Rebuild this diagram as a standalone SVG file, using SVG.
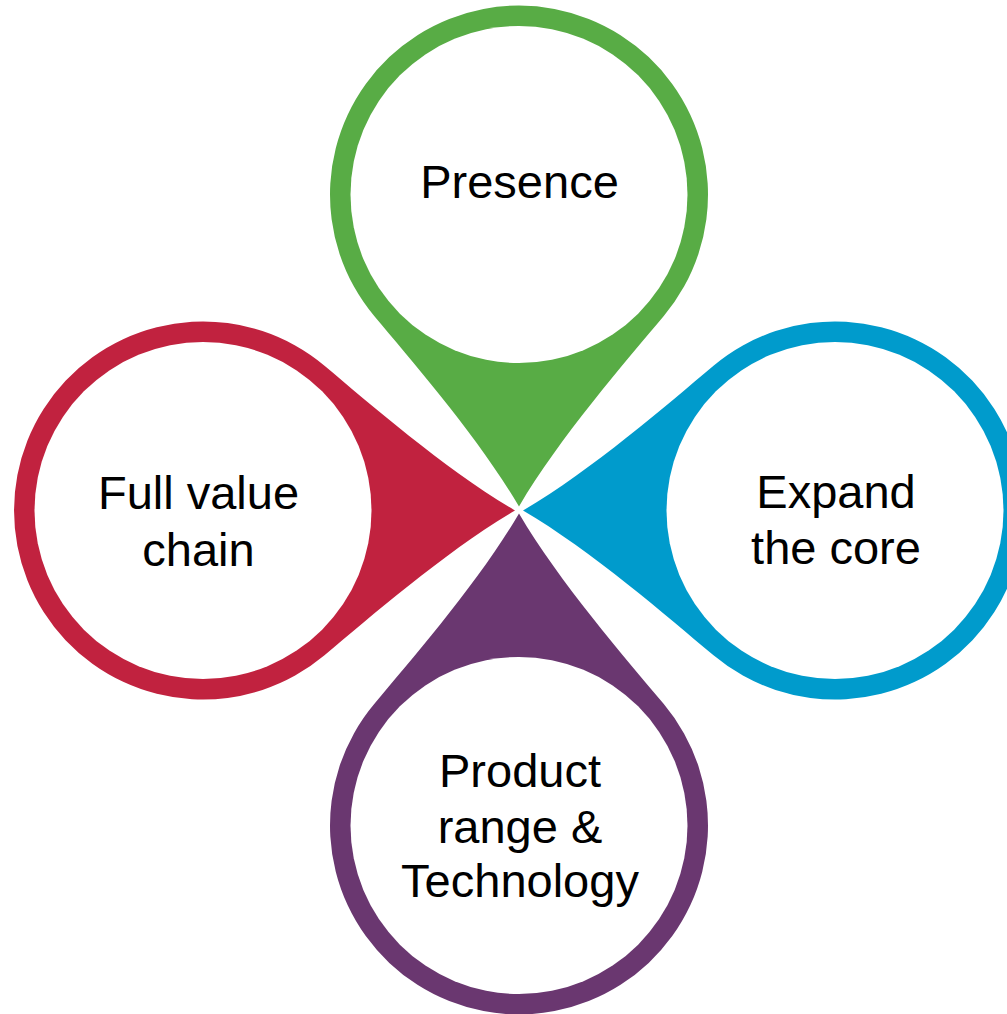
<svg xmlns="http://www.w3.org/2000/svg" width="1007" height="1014" viewBox="0 0 1007 1014">
  <defs>
    <path id="drop" d="M121.5,-144.8 C167.5,-106.2 243.7,-40 312,0 C243.7,40 167.5,106.2 121.5,144.8 A189,189 0 1,1 121.5,-144.8 Z"/>
  </defs>
  <style>
    .hole { fill: #FFFFFF; }
    .lbl { font-family: "Liberation Sans", Arial, sans-serif; font-size: 47px; fill: #000000; text-anchor: middle; }
  </style>
  <rect width="1007" height="1014" fill="#FFFFFF"/>
  <g id="connectors"/>
  <g id="node-presence">
    <use href="#drop" transform="translate(519,194.5) rotate(90)" fill="#58AC45"/>
    <circle class="hole" cx="519" cy="194.5" r="168.5"/>
    <text class="lbl" x="519.5" y="198">Presence</text>
  </g>
  <g id="node-full-value-chain">
    <use href="#drop" transform="translate(203,510.5)" fill="#C1223F"/>
    <circle class="hole" cx="203" cy="510.5" r="168.5"/>
    <text class="lbl" x="198.5" y="509">Full value</text>
    <text class="lbl" x="198.5" y="566">chain</text>
  </g>
  <g id="node-expand-the-core">
    <use href="#drop" transform="translate(835,510.5) rotate(180)" fill="#009BCC"/>
    <circle class="hole" cx="835" cy="510.5" r="168.5"/>
    <text class="lbl" x="836" y="508">Expand</text>
    <text class="lbl" x="836" y="564">the core</text>
  </g>
  <g id="node-product-range-technology">
    <use href="#drop" transform="translate(519,825.5) rotate(-90)" fill="#6A3770"/>
    <circle class="hole" cx="519" cy="825.5" r="168.5"/>
    <text class="lbl" x="520" y="787">Product</text>
    <text class="lbl" x="520" y="843">range &amp;</text>
    <text class="lbl" x="520" y="897">Technology</text>
  </g>
</svg>
